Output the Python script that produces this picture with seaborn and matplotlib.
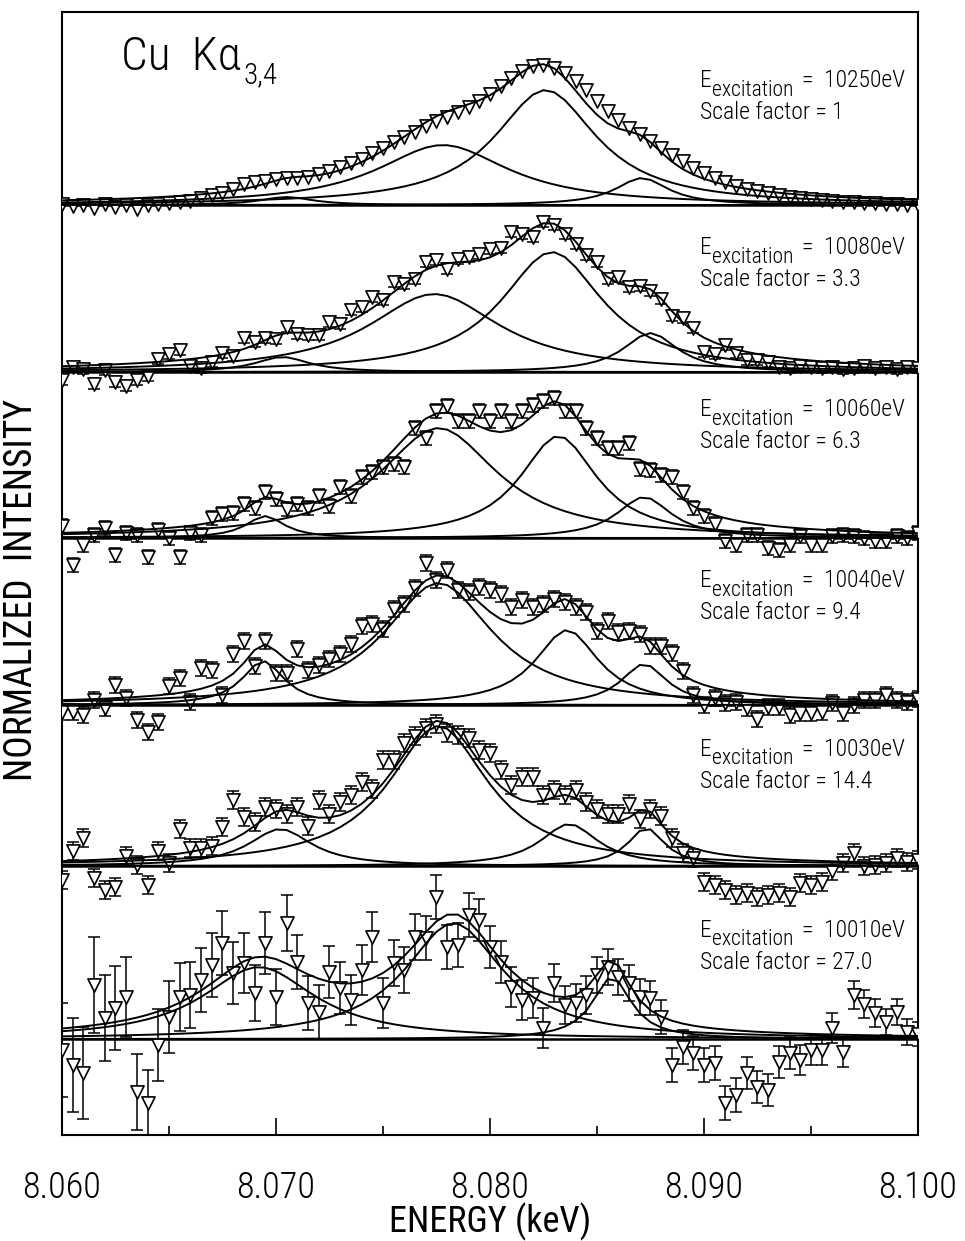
import matplotlib
matplotlib.use("Agg")
import matplotlib.pyplot as plt
import numpy as np
import pandas as pd
import seaborn as sns
from matplotlib import font_manager
from matplotlib.ticker import MultipleLocator, FormatStrFormatter


# ── Data (heights, arbitrary units above each baseline) ──
energy = np.round(np.arange(8.0600, 8.10001, 0.0005), 4)  # keV, 81 channels

excitation = ["10250", "10080", "10060", "10040", "10030", "10010"]
scale_factor = ["1", "3.3", "6.3", "9.4", "14.4", "27.0"]

int_10250 = [1, -1, 0, -3, 1, -2, 0, -4, 0, 1,
             2, 3, 4, 7, 10, 12, 16, 21, 23, 24,
             26, 27, 27, 28, 31, 34, 38, 42, 46, 52,
             57, 63, 68, 73, 79, 84, 88, 93, 98, 104,
             111, 119, 127, 134, 139, 140, 137, 132, 124, 115,
             104, 94, 85, 77, 71, 64, 57, 50, 44, 37,
             32, 27, 23, 19, 16, 14, 12, 10, 8, 7,
             6, 5, 4, 3, 3, 2, 2, 1, 1, 0,
             0]
int_10080 = [-8, 5, 3, -12, 2, -10, -14, -8, -4, 13,
             18, 22, 6, 4, 10, 19, 16, 34, 30, 34,
             33, 45, 38, 37, 37, 50, 48, 62, 65, 75,
             72, 90, 88, 93, 110, 112, 103, 113, 115, 118,
             123, 124, 140, 138, 135, 150, 147, 138, 128, 117,
             110, 93, 95, 85, 86, 81, 73, 56, 54, 44,
             20, 18, 27, 19, 12, 12, 10, 5, 4, 6,
             5, 4, 5, 3, 4, 6, 4, 5, 3, 5,
             4]
int_10060 = [12, -27, -7, 3, 10, -17, 5, 3, -19, 8,
             0, -19, 5, 3, 20, 24, 25, 34, 30, 46,
             39, 29, 34, 30, 42, 32, 51, 42, 61, 66,
             71, 74, 71, 110, 100, 127, 132, 117, 117, 127,
             117, 127, 117, 127, 133, 137, 140, 127, 127, 110,
             100, 90, 90, 95, 69, 68, 63, 61, 46, 30,
             22, 14, -3, -7, 3, 3, -10, -12, -7, 2,
             -7, -7, 2, 3, 2, 0, -3, -3, 2, 0,
             5]
int_10040 = [-7, -7, -10, 5, -3, 20, 7, -15, -27, -17,
             19, 27, 3, 37, 35, 10, 51, 64, 39, 64,
             32, 32, 56, 35, 40, 46, 51, 61, 79, 81,
             76, 96, 101, 117, 142, 125, 135, 115, 113, 118,
             115, 111, 98, 105, 98, 101, 106, 103, 98, 93,
             74, 84, 73, 74, 71, 59, 59, 52, 34, 10,
             0, 7, 2, 3, -3, -14, -2, -2, -10, -8,
             -8, -7, 2, -8, 0, 5, 5, 10, 5, 3,
             6]
int_10030 = [-14, 15, 28, -12, -24, -21, 10, 1, -19, 15,
             3, 37, 18, 18, 20, 39, 66, 49, 44, 59,
             57, 52, 59, 40, 66, 52, 64, 71, 84, 77,
             106, 106, 123, 130, 138, 142, 133, 131, 128, 116,
             113, 96, 81, 89, 89, 71, 76, 71, 76, 64,
             57, 52, 52, 62, 47, 57, 50, 28, 13, 8,
             -16, -19, -24, -29, -27, -31, -29, -27, -31, -17,
             -19, -16, -5, 3, 13, 0, 1, 3, 8, 4,
             6]
int_10010 = [-11, -26, -34, 54, 21, 31, 42, -53, -64, -6,
             22, 42, 44, 59, 74, 96, 66, 76, 46, 96,
             42, 116, 77, 36, 27, 67, 51, 39, 69, 102,
             36, 76, 69, 102, 101, 142, 92, 94, 124, 119,
             92, 77, 52, 39, 41, 11, 56, 34, 36, 44,
             64, 72, 62, 56, 42, 41, 22, -26, -8, -14,
             -26, -24, -64, -56, -34, -48, -51, -23, -14, -21,
             -11, -11, 11, -13, 44, 35, 26, 17, 27, 7,
             5]

# statistical errors (one value for the whole spectrum, or one per channel)
err_10250 = 0
err_10080 = 5
err_10060 = 7
err_10040 = 8
err_10030 = 9
err_10010 = [47, 47, 46, 48, 43, 42, 40, 38, 33, 36,
             36, 34, 33, 32, 32, 32, 31, 30, 28, 31,
             28, 28, 27, 27, 27, 26, 26, 25, 25, 25,
             25, 23, 23, 23, 22, 22, 22, 22, 22, 21,
             21, 21, 20, 20, 20, 20, 19, 19, 19, 19,
             18, 18, 18, 18, 18, 17, 17, 17, 17, 17,
             17, 17, 17, 17, 16, 16, 16, 16, 16, 15,
             15, 15, 15, 15, 14, 14, 14, 13, 13, 13,
             12]

# fitted Lorentzian components: (centre keV, height, FWHM keV)
fit_10250 = [(8.0705, 8, 0.0030), (8.0778, 60, 0.0075), (8.0826, 115, 0.0058), (8.0871, 27, 0.0030)]
fit_10080 = [(8.0703, 15, 0.0031), (8.0774, 78, 0.0075), (8.0829, 120, 0.0058), (8.0875, 39, 0.0031)]
fit_10060 = [(8.0695, 22, 0.0022), (8.0776, 110, 0.0067), (8.0832, 102, 0.0044), (8.0872, 41, 0.0031)]
fit_10040 = [(8.0694, 44, 0.0024), (8.0776, 122, 0.0062), (8.0836, 75, 0.0036), (8.0872, 41, 0.0026)]
fit_10030 = [(8.0702, 37, 0.0036), (8.0776, 140, 0.0057), (8.0837, 42, 0.0033), (8.0873, 38, 0.0021)]
fit_10010 = [(8.0692, 72, 0.0064), (8.0783, 116, 0.0056), (8.0857, 62, 0.0022)]

# ── Layout ────────────────────────────────────────────────────────────────────
baseline = [930, 763, 597, 430, 269, 96]     # vertical offset of each spectrum
label_rise = [118, 118, 122, 118, 110, 102]  # text height above the baseline
X_LABEL, X_VALUE = 8.0898, 8.0946            # left edge of annotation texts


def pick_font():
    """Narrow, light sans face if one is installed, otherwise plain DejaVu."""
    faces = font_manager.fontManager.ttflist
    names = {f.name for f in faces}
    for cand in ["Roboto Condensed", "Liberation Sans Narrow", "Open Sans Condensed"]:
        if cand in names:
            return cand, "normal"
    if any(f.name == "DejaVu Sans" and f.stretch == "condensed" for f in faces):
        return "DejaVu Sans", "condensed"
    if "Roboto" in names:
        return "Roboto", "normal"
    return "DejaVu Sans", "normal"


def lorentz(x, x0, h, fwhm):
    return h / (1.0 + ((x - x0) / (fwhm / 2.0)) ** 2)


FACE, STRETCH = pick_font()

sns.set_theme(style="white")
plt.rcParams["font.family"] = [FACE, "DejaVu Sans"]
plt.rcParams["font.stretch"] = STRETCH
plt.rcParams["font.weight"] = "light"
for key in ["axes.edgecolor", "xtick.color", "text.color", "axes.labelcolor"]:
    plt.rcParams[key] = "black"

fig = plt.figure(figsize=(9.65, 12.41), dpi=100)
ax = fig.add_axes([0.0642, 0.0854, 0.8870, 0.9049])

spectra = [int_10250, int_10080, int_10060, int_10040, int_10030, int_10010]
errors = [err_10250, err_10080, err_10060, err_10040, err_10030, err_10010]
fits = [fit_10250, fit_10080, fit_10060, fit_10040, fit_10030, fit_10010]

for k in range(6):
    base = baseline[k]
    ax.axhline(base, color="black", lw=1.8, zorder=1)

    comps = [lorentz(energy, *p) for p in fits[k]]
    curves = comps + [np.sum(comps, axis=0)]
    df = pd.concat(
        [pd.DataFrame({"energy": energy, "y": base + c, "curve": j})
         for j, c in enumerate(curves)],
        ignore_index=True,
    )
    sns.lineplot(data=df, x="energy", y="y", units="curve", estimator=None,
                 color="black", linewidth=1.4, legend=False, ax=ax, zorder=4)

    y = base + np.asarray(spectra[k], dtype=float)
    if np.any(np.asarray(errors[k]) > 0):
        ax.errorbar(energy, y, yerr=errors[k], fmt="none", ecolor="black",
                    elinewidth=1.1, capsize=4, capthick=1.1, zorder=2)
    sns.scatterplot(x=energy, y=y, marker="v", s=90, color="white",
                    edgecolor="black", linewidth=1.2, legend=False, ax=ax, zorder=3)

    # E_excitation = ... / Scale factor = ...
    ty = base + label_rise[k]
    t_e = ax.text(X_LABEL, ty, "E", fontsize=17, ha="left", va="baseline")
    ax.annotate("excitation", xy=(1, 0), xycoords=t_e, xytext=(0.5, -2.5),
                textcoords="offset points", fontsize=15.5, ha="left", va="baseline")
    ax.text(X_VALUE, ty, "=  " + excitation[k] + "eV",
            fontsize=17, ha="left", va="baseline")
    ax.text(X_LABEL, ty - 32, "Scale factor = " + scale_factor[k],
            fontsize=17, ha="left", va="baseline")

t_cu = ax.text(0.069, 0.948, "Cu  K\u03b1", transform=ax.transAxes,
               fontsize=34, ha="left", va="baseline")
ax.annotate("3,4", xy=(1, 0), xycoords=t_cu, xytext=(2, -3),
            textcoords="offset points", fontsize=21, ha="left", va="baseline")

ax.set_xlim(8.060, 8.100)
ax.set_ylim(0, 1123)
ax.xaxis.set_major_locator(MultipleLocator(0.010))
ax.xaxis.set_minor_locator(MultipleLocator(0.005))
ax.xaxis.set_major_formatter(FormatStrFormatter("%.3f"))
ax.tick_params(axis="x", which="major", direction="in", length=12, width=1.2,
               bottom=True, top=False, labelsize=26, pad=25)
ax.tick_params(axis="x", which="minor", direction="in", length=6.5, width=1.2,
               bottom=True, top=False)
ax.set_yticks([])
for s in ax.spines.values():
    s.set_linewidth(1.5)
    s.set_color("black")

ax.set_xlabel("ENERGY (keV)", fontsize=26, labelpad=-2)
ax.set_ylabel("NORMALIZED  INTENSITY", fontsize=27)
ax.yaxis.set_label_coords(-0.026, 0.485)

fig.savefig("out.png", dpi=100)
